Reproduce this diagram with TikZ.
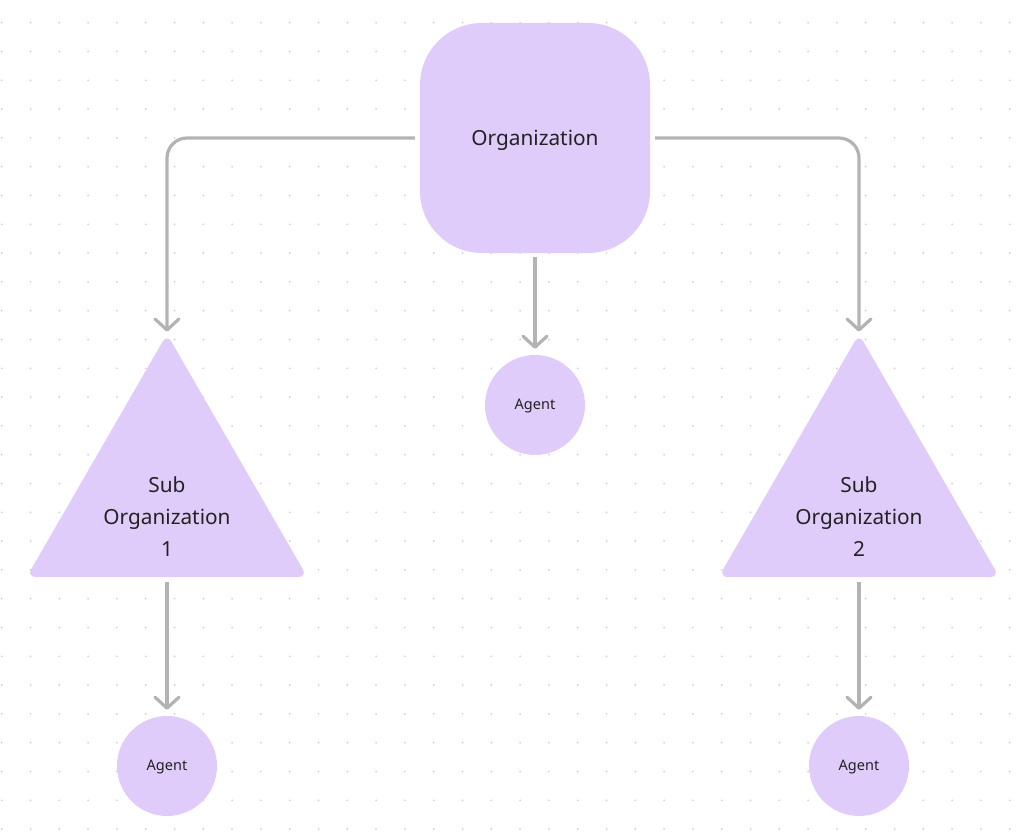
\documentclass[tikz,border=0pt]{standalone}
\usepackage{fontspec}
\setmainfont{Noto Sans}
\usetikzlibrary{shapes.geometric}
\usetikzlibrary{arrows.meta}
\definecolor{lilac}{HTML}{E0CCFA}
\definecolor{linkgray}{HTML}{B3B3B3}
\definecolor{dotgray}{HTML}{CFCFCF}
\definecolor{ink}{HTML}{222222}
\tikzset{>={Straight Barb[width=24pt,length=11pt,round]}}

\begin{document}
\begin{tikzpicture}[x=1pt,y=-1pt,
		org/.style={rectangle, rounded corners=62pt, fill=lilac,
		minimum width=230pt, minimum height=230pt, text=ink},
		subtri/.style={regular polygon, regular polygon sides=3,
		rounded corners=9pt, fill=lilac, minimum size=324pt, inner sep=0pt},
		lbl/.style={align=center, text=ink, font=\fontsize{20.8}{32}\selectfont},
		agent/.style={circle, fill=lilac, minimum size=100pt, inner sep=0pt,
		text=ink, font=\fontsize{14.5}{16}\selectfont},
		line/.style={draw=linkgray, line width=3.2pt, ->, rounded corners=20pt}]
		\useasboundingbox (0,0) rectangle (1018,840);
		%% dot grid
		\foreach \i in {0,...,35}
		\foreach \j in {0,...,28}
		\fill[dotgray] (1.7+28.8*\i, 22.7+28.8*\j) circle (1pt);
		%% shapes
		\node [org] (Org) at (535,138) {};
		\node [lbl] (OrgText) at (535,140) {Organization};
		\node [subtri] (Sub1) at (167,496) {};
		\node [subtri] (Sub2) at (859,496) {};
		\node [lbl] (Sub1Text) at (167,517) {Sub\\Organization\\1};
		\node [lbl] (Sub2Text) at (859,517) {Sub\\Organization\\2};
		\node [agent] (A0) at (535,405) {};
		\node [agent] (A1) at (167,766) {};
		\node [agent] (A2) at (859,766) {};
		\foreach \a in {A0,A1,A2}
		\node [agent, fill=none] (\a Text) at ([yshift=-1.5pt]\a.center) {Agent};
		%% links
		\path [line] ([xshift=-5pt]Org.west) -| ([yshift=2pt]Sub1.north);
		\path [line] ([xshift=5pt]Org.east) -| ([yshift=2pt]Sub2.north);
		\path [line] ([yshift=-4pt]Org.south) -- ([yshift=6pt]A0.north);
		\path [line] ([yshift=-5pt]Sub1.south) -- ([yshift=6pt]A1.north);
		\path [line] ([yshift=-5pt]Sub2.south) -- ([yshift=6pt]A2.north);
	\end{tikzpicture}
\end{document}
